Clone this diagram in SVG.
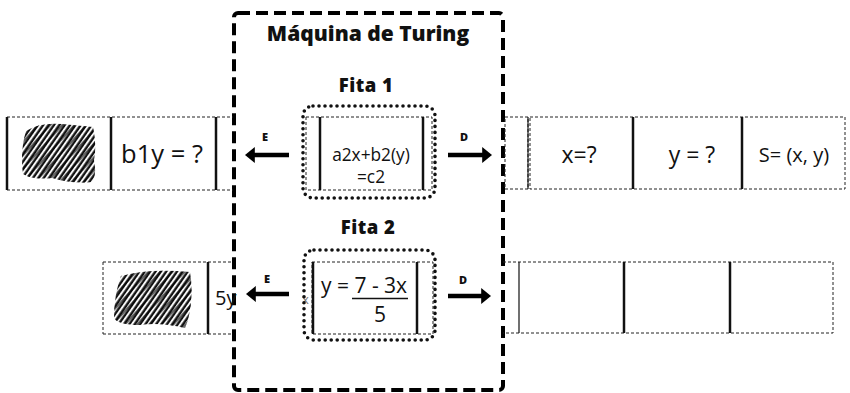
<svg xmlns="http://www.w3.org/2000/svg" width="850" height="393" viewBox="0 0 850 393">
<style>
.t{font-family:"Open Sans","Noto Sans",sans-serif;fill:#111}
.b{font-weight:800}
.dash{fill:none;stroke:#222;stroke-width:1;stroke-dasharray:3 2}
.solid{stroke:#111;stroke-width:2.5}
.dot{fill:none;stroke:#111;stroke-width:3.6;stroke-dasharray:0 6;stroke-linecap:round}
.arr{stroke:#000;stroke-width:4.5;marker-end:url(#ah)}
</style>
<defs>
<marker id="ah" markerWidth="2.2" markerHeight="4" refX="0.4" refY="2" orient="auto" markerUnits="strokeWidth" viewBox="0 0 2.2 4">
<path d="M0,0.2 L2.2,2 L0,3.8 Z" fill="#000"/>
</marker>
<pattern id="hatch" width="4.4" height="4.4" patternUnits="userSpaceOnUse" patternTransform="rotate(-55)">
<rect width="4.4" height="4.4" fill="#fff"/>
<line x1="0" y1="1.5" x2="4.4" y2="1.5" stroke="#111" stroke-width="2.4"/>
</pattern>
<pattern id="hatch2" width="9" height="9" patternUnits="userSpaceOnUse" patternTransform="rotate(-48)">
<line x1="0" y1="4" x2="9" y2="4" stroke="#000" stroke-width="1.2"/>
</pattern>
<clipPath id="blob1"><path d="M26,131 Q40,122 62,124 L93,127 Q97,145 94,160 Q97,175 92,182 Q72,184 52,178 Q32,180 23,174 Q20,150 26,131 Z"/></clipPath>
<clipPath id="blob2"><path d="M121,276 Q150,268 190,272 Q194,295 188,320 L185,328 Q160,322 140,325 Q118,325 114,318 Q114,295 121,276 Z"/></clipPath>
</defs>

<g id="machine">
<rect x="234" y="13" width="269" height="377" rx="4" fill="none" stroke="#000" stroke-width="4" stroke-dasharray="12 6"/>
<text class="t b" x="368" y="41" font-size="21" text-anchor="middle">Máquina de Turing</text>
<text class="t b" x="366" y="92" font-size="18.5" text-anchor="middle" letter-spacing="0.5">Fita 1</text>
<text class="t b" x="368" y="234" font-size="18.5" text-anchor="middle" letter-spacing="0.5">Fita 2</text>
</g>

<g id="tape1-left">
<path class="dash" d="M7,117 H233 M7,190 H233"/>
<line class="solid" x1="7" y1="117" x2="7" y2="190"/>
<line class="solid" x1="111" y1="117" x2="111" y2="190"/>
<line class="solid" x1="216" y1="117" x2="216" y2="190"/>
<g clip-path="url(#blob1)"><rect x="15" y="118" width="90" height="70" fill="url(#hatch)"/><rect x="15" y="118" width="90" height="70" fill="url(#hatch2)"/></g>
<text class="t" x="162" y="163" font-size="25.5" text-anchor="middle">b1y = ?</text>
</g>

<g id="head1">
<rect class="dot" x="303" y="106" width="132" height="92" rx="10"/>
<rect class="dash" x="306" y="117" width="126" height="73"/>
<line class="solid" x1="320" y1="117" x2="320" y2="190"/>
<line class="solid" x1="423" y1="117" x2="423" y2="190"/>
<text class="t" x="371" y="161" font-size="17.3" text-anchor="middle">a2x+b2(y)</text>
<text class="t" x="371" y="183" font-size="17.3" text-anchor="middle">=c2</text>
</g>

<g id="tape1-right">
<rect class="dash" x="505" y="117" width="23" height="72"/>
<rect class="dash" x="530" y="117" width="315" height="72"/>
<line x1="528" y1="117" x2="528" y2="189" stroke="#111" stroke-width="1.2"/>
<line class="solid" x1="633" y1="117" x2="633" y2="189"/>
<line class="solid" x1="742" y1="117" x2="742" y2="189"/>
<text class="t" x="579" y="163" font-size="23" text-anchor="middle">x=?</text>
<text class="t" x="692" y="163" font-size="23" text-anchor="middle">y = ?</text>
<text class="t" x="794" y="162" font-size="20" text-anchor="middle">S= (x, y)</text>
</g>

<g id="tape2-left">
<path class="dash" d="M103,262 H233 M103,334 H233 M103,262 V334"/>
<line class="solid" x1="208" y1="262" x2="208" y2="334"/>
<g clip-path="url(#blob2)"><rect x="110" y="265" width="85" height="66" fill="url(#hatch)"/><rect x="110" y="265" width="85" height="66" fill="url(#hatch2)"/></g>
<text class="t" x="215" y="305" font-size="20">5y</text>
</g>

<g id="head2">
<text class="t" x="302" y="304" font-size="13" style="fill:#777">x</text>
<rect class="dot" x="304" y="250" width="131" height="90" rx="10"/>
<rect class="dash" x="312" y="262" width="121" height="72"/>
<line class="solid" x1="313" y1="262" x2="313" y2="334"/>
<line class="solid" x1="417" y1="262" x2="417" y2="334"/>
<text class="t" x="321" y="293" font-size="21">y = 7 - 3x</text>
<line x1="352" y1="298.5" x2="408" y2="298.5" stroke="#111" stroke-width="1.3"/>
<text class="t" x="380" y="322" font-size="21" text-anchor="middle">5</text>
</g>

<g id="tape2-right">
<path class="dash" d="M503,262 H833 V333 H503"/>
<line x1="519" y1="262" x2="519" y2="333" stroke="#111" stroke-width="1.2"/>
<line class="solid" x1="624" y1="262" x2="624" y2="333"/>
<line class="solid" x1="730" y1="262" x2="730" y2="333"/>
</g>

<g id="connectors">
<line class="arr" x1="289" y1="155" x2="253" y2="155"/>
<line class="arr" x1="448" y1="155" x2="484" y2="155"/>
<line class="arr" x1="289" y1="294" x2="254" y2="294"/>
<line class="arr" x1="448" y1="296" x2="483" y2="296"/>
<text class="t" x="265" y="141" font-size="11" font-weight="900" text-anchor="middle">E</text>
<text class="t" x="464" y="141" font-size="11" font-weight="900" text-anchor="middle">D</text>
<text class="t" x="267" y="283" font-size="11" font-weight="900" text-anchor="middle">E</text>
<text class="t" x="463" y="284" font-size="11" font-weight="900" text-anchor="middle">D</text>
</g>
</svg>
